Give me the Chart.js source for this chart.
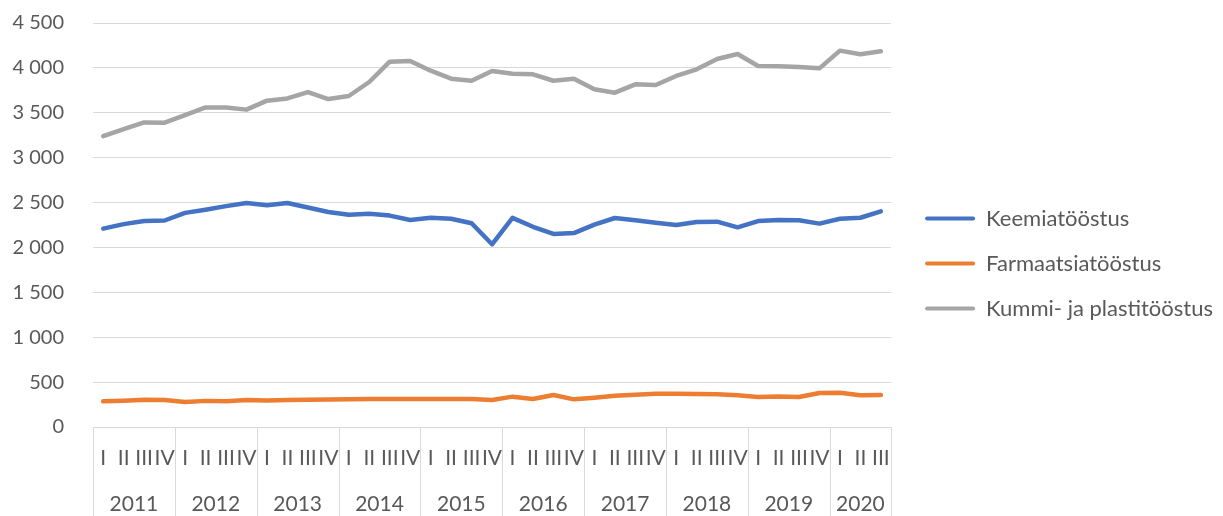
<!DOCTYPE html>
<html>
<head>
<meta charset="utf-8">
<title>Keemia-, farmaatsia- ning kummi- ja plastitööstus</title>
<script src="https://cdn.jsdelivr.net/npm/chart.js@4.4.1/dist/chart.umd.min.js"></script>
<style>
    body { margin: 0; background: #ffffff; }
</style>
</head>
<body>
<canvas id="industryCanvas" width="1223" height="516"></canvas>
<script>
// Data
const years = ['2011', '2012', '2013', '2014', '2015', '2016', '2017', '2018', '2019', '2020'];
const quarterLabels = [
    'I', 'II', 'III', 'IV', 'I', 'II', 'III', 'IV', 'I', 'II', 'III', 'IV',
    'I', 'II', 'III', 'IV', 'I', 'II', 'III', 'IV', 'I', 'II', 'III', 'IV',
    'I', 'II', 'III', 'IV', 'I', 'II', 'III', 'IV', 'I', 'II', 'III', 'IV',
    'I', 'II', 'III'
];
const keemia = [
    2210, 2260, 2295, 2300, 2385, 2420, 2460, 2495, 2470, 2495, 2445, 2395,
    2365, 2375, 2355, 2305, 2330, 2320, 2270, 2035, 2330, 2230, 2150, 2160,
    2255, 2328, 2302, 2276, 2250, 2283, 2287, 2224, 2294, 2306, 2302, 2265,
    2320, 2331, 2402
];
const farmaatsia = [
    286, 293, 304, 300, 278, 291, 286, 300, 296, 300, 303, 306,
    308, 313, 313, 313, 313, 313, 313, 300, 338, 312, 356, 308,
    327, 349, 360, 371, 371, 367, 364, 353, 334, 341, 334, 379,
    382, 353, 356
];
const kummi = [
    3240, 3319, 3393, 3390, 3475, 3560, 3560, 3535, 3635, 3660, 3731, 3653,
    3687, 3843, 4069, 4077, 3969, 3880, 3857, 3965, 3935, 3928, 3857, 3880,
    3761, 3724, 3817, 3809, 3910, 3984, 4099, 4155, 4021, 4017, 4010, 3995,
    4192, 4151, 4185
];

const textColor = '#595959';
const gridColor = '#d9d9d9';
const fontFamily = 'Lato, "Noto Sans", sans-serif';

// year groups on the category axis (start index, end index)
function yearGroups() {
    const groups = [];
    let start = 0;
    years.forEach(year => {
        let end = start;
        while (end + 1 < quarterLabels.length && quarterLabels[end + 1] !== 'I') {
            end++;
        }
        groups.push({ year: year, start: start, end: end });
        start = end + 1;
    });
    return groups;
}

// Vertical separators between year boxes under the plot
const yearSeparators = {
    id: 'yearSeparators',
    afterDraw(chart) {
        const ctx = chart.ctx;
        const scale = chart.scales.xYear;
        const bottom = chart.chartArea.bottom;
        const groups = yearGroups();
        const edges = groups.map(g => g.start - 0.5);
        edges.push(groups[groups.length - 1].end + 0.5);

        ctx.save();
        ctx.strokeStyle = gridColor;
        ctx.lineWidth = 1;
        edges.forEach(edge => {
            const x = Math.round(scale.getPixelForValue(edge)) + 0.5;
            ctx.beginPath();
            ctx.moveTo(x, bottom);
            ctx.lineTo(x, chart.height);
            ctx.stroke();
        });
        ctx.restore();
    }
};

const industryContext = document.getElementById('industryCanvas').getContext('2d');

new Chart(industryContext, {
    type: 'line',
    data: {
        labels: quarterLabels,
        datasets: [
            {
                label: 'Keemiatööstus',
                data: keemia,
                borderColor: '#4472c4',
                backgroundColor: '#4472c4'
            },
            {
                label: 'Farmaatsiatööstus',
                data: farmaatsia,
                borderColor: '#ed7d31',
                backgroundColor: '#ed7d31'
            },
            {
                label: 'Kummi- ja plastitööstus',
                data: kummi,
                borderColor: '#a5a5a5',
                backgroundColor: '#a5a5a5'
            }
        ]
    },
    options: {
        responsive: false,
        animation: false,
        layout: {
            padding: { top: 11, bottom: 0, right: 0, left: 0 }
        },
        elements: {
            line: {
                borderWidth: 4.5,
                tension: 0,
                borderCapStyle: 'round',
                borderJoinStyle: 'round'
            },
            point: { radius: 0, hoverRadius: 0 }
        },
        scales: {
            x: {
                type: 'category',
                position: 'bottom',
                offset: true,
                weight: 0,
                grid: { display: false, drawTicks: false },
                border: { display: true, color: gridColor },
                ticks: {
                    autoSkip: false,
                    maxRotation: 0,
                    padding: 19,
                    color: textColor,
                    font: { family: fontFamily, size: 21 }
                },
                afterFit(scale) { scale.height = 38; }
            },
            xYear: {
                type: 'linear',
                position: 'bottom',
                weight: 1,
                min: -0.5,
                max: quarterLabels.length - 0.5,
                grid: { display: false, drawTicks: false },
                border: { display: false },
                afterBuildTicks(scale) {
                    scale.ticks = yearGroups().map(g => ({ value: (g.start + g.end) / 2 }));
                },
                ticks: {
                    autoSkip: false,
                    maxRotation: 0,
                    padding: 27,
                    color: textColor,
                    font: { family: fontFamily, size: 21 },
                    callback: (value, index) => years[index]
                },
                afterFit(scale) { scale.height = 51; }
            },
            y: {
                min: 0,
                max: 4500,
                grid: { color: gridColor, drawTicks: false },
                border: { display: false },
                ticks: {
                    stepSize: 500,
                    padding: 29,
                    color: textColor,
                    font: { family: fontFamily, size: 20 },
                    callback: value => String(value).replace(/\B(?=(\d{3})+(?!\d))/g, ' ')
                },
                afterFit(scale) {
                    scale.width = 93;
                    scale.paddingTop = 23;
                }
            },
            // empty spacer between the plot and the legend
            yGap: {
                type: 'linear',
                position: 'right',
                grid: { display: false },
                border: { display: false },
                ticks: { display: false },
                afterFit(scale) { scale.width = 11; }
            }
        },
        plugins: {
            legend: {
                position: 'right',
                maxWidth: 400,
                labels: {
                    boxWidth: 50,
                    boxHeight: 4,
                    padding: 23,
                    useBorderRadius: true,
                    borderRadius: 2,
                    color: textColor,
                    font: { family: fontFamily, size: 22 },
                    generateLabels(chart) {
                        return Chart.defaults.plugins.legend.labels.generateLabels(chart)
                            .map(item => Object.assign(item, { lineWidth: 0 }));
                    }
                }
            },
            tooltip: { enabled: false }
        }
    },
    plugins: [yearSeparators]
});
</script>
</body>
</html>
